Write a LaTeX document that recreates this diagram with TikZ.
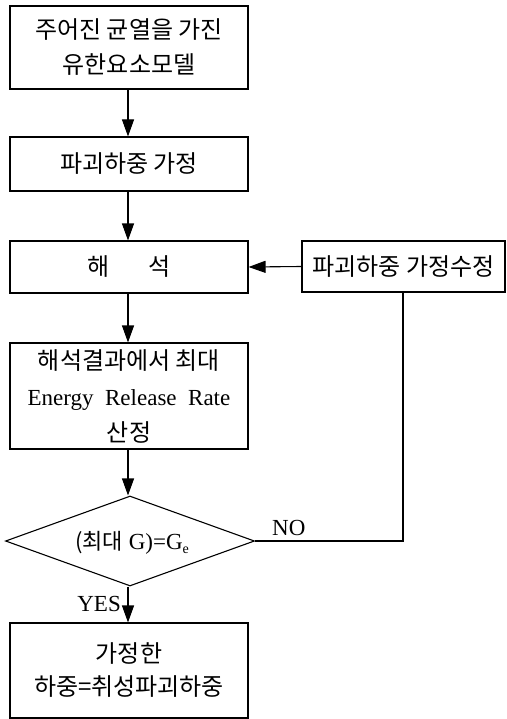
\documentclass[tikz,border=0pt]{standalone}
\usepackage{fontspec}
\setmainfont{Liberation Serif}
\newfontfamily\kr{Noto Sans CJK KR}
\usetikzlibrary{shapes.geometric,arrows.meta}
\begin{document}
\begin{tikzpicture}[x=1pt,y=-1pt,
  box/.style={draw,line width=1.1pt,inner sep=0pt,minimum width=238pt,align=center,font=\kr\fontsize{24}{35}\selectfont},
  flow/.style={line width=1.1pt,-{Triangle[length=17pt,width=12pt]}},
  link/.style={line width=1.1pt},
  lbl/.style={font=\fontsize{23}{24}\selectfont,inner sep=0pt}]
\useasboundingbox (0,0) rectangle (506,719);
\node[box,minimum height=83pt] (b1) at (129,47.5) {주어진 균열을 가진\\유한요소모델};
\node[box,minimum height=54pt] (b2) at (129,164) {파괴하중 가정};
\node[box,minimum height=52pt] (b3) at (129,267) {해\hspace{1.6em}석};
\node[box,minimum width=203pt,minimum height=51pt] (b4) at (403.5,266.5) {파괴하중 가정수정};
\node[box,minimum height=106pt,font=\kr\fontsize{24}{36}\selectfont] (b5) at (129,396) {해석결과에서 최대\\{\rmfamily\fontsize{23}{24}\selectfont Energy\ \ Release\ \ Rate}\\산정};
\node[draw,diamond,line width=1.1pt,inner sep=0pt,minimum width=249pt,minimum height=90pt] (d) at (130,541) {};
\node[lbl,anchor=center] (dt) at (132,543) {{\kr\fontsize{22}{24}\selectfont (최대}\ G)=G\raisebox{-0.15em}{\fontsize{14}{14}\selectfont e}};
\node[box,minimum height=95pt,font=\kr\fontsize{24}{33}\selectfont] (b6) at (129,670.5) {가정한\\하중=취성파괴하중};
\coordinate (c1) at (403,541);
\node[lbl,anchor=south west] (no) at (272,536) {NO};
\node[lbl,anchor=east] (yes) at (121,604) {YES};
\draw[flow] (b1.south -| 128,0) -- (b2.north -| 128,0);
\draw[flow] (b2.south -| 128,0) -- (b3.north -| 128,0);
\draw[flow] (b3.south -| 128,0) -- (b5.north -| 128,0);
\draw[flow] (b5.south -| 128,0) -- (d.north -| 128,0);
\draw[flow] (d.south -| 128,0) -- (b6.north -| 128,0);
\draw[flow] (b4.west) -- (b3.east);
\draw[link] (d.east) -- (c1) -- (b4.south -| c1);
\end{tikzpicture}
\end{document}
